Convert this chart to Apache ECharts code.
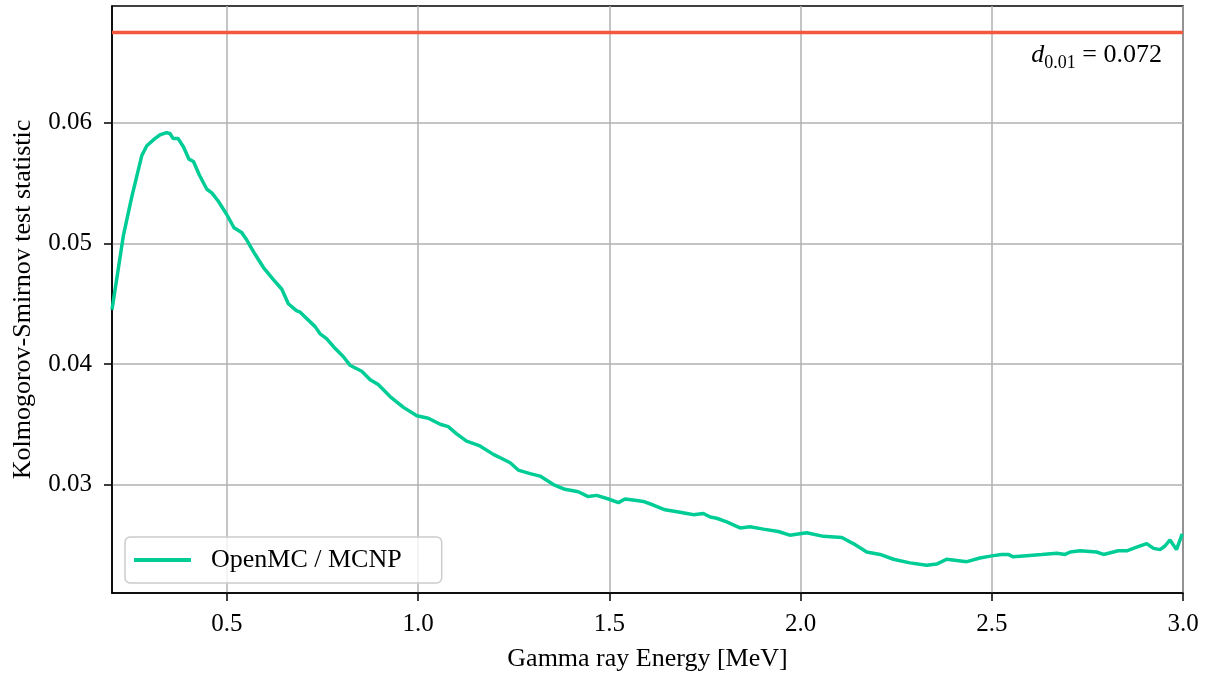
<!DOCTYPE html>
<html>
<head>
<meta charset="utf-8">
<script src="https://cdn.jsdelivr.net/npm/echarts@6/dist/echarts.min.js"></script>
<style>html,body{margin:0;padding:0;background:#fff}#chart{width:1209px;height:677px}</style>
</head>
<body>
<div id="chart"></div>
<script>
// Gamma ray energy [MeV]
const energy = [0.200,0.230,0.252,0.278,0.291,0.312,0.325,0.343,0.352,0.360,0.373,0.387,0.401,0.413,0.428,0.448,0.461,0.478,0.500,0.519,0.539,0.552,0.574,0.596,0.622,0.644,0.661,0.683,0.692,0.731,0.744,0.761,0.783,0.805,0.822,0.853,0.875,0.896,0.927,0.962,0.997,1.027,1.058,1.079,1.101,1.127,1.162,1.197,1.223,1.241,1.262,1.293,1.319,1.354,1.384,1.419,1.445,1.467,1.498,1.524,1.541,1.567,1.589,1.615,1.646,1.685,1.703,1.720,1.746,1.764,1.781,1.807,1.842,1.868,1.903,1.942,1.972,2.016,2.060,2.108,2.138,2.173,2.208,2.243,2.286,2.330,2.356,2.382,2.435,2.469,2.504,2.526,2.543,2.556,2.591,2.631,2.670,2.692,2.705,2.731,2.774,2.792,2.831,2.853,2.879,2.905,2.923,2.940,2.953,2.966,2.983,2.998];
// Kolmogorov-Smirnov test statistic (OpenMC / MCNP)
const ksStat = [0.0445,0.0507,0.0539,0.0573,0.0581,0.0587,0.0590,0.0592,0.0591,0.0587,0.0587,0.0580,0.0570,0.0568,0.0557,0.0545,0.0542,0.0535,0.0524,0.0513,0.0509,0.0503,0.0491,0.0480,0.0470,0.0462,0.0450,0.0444,0.0443,0.0431,0.0425,0.0421,0.0413,0.0406,0.0399,0.0394,0.0387,0.0383,0.0373,0.0364,0.0357,0.0355,0.0350,0.0348,0.0342,0.0336,0.0332,0.0325,0.0321,0.0318,0.0312,0.0309,0.0307,0.0300,0.0296,0.0294,0.0290,0.0291,0.0288,0.0285,0.0288,0.0287,0.0286,0.0283,0.0279,0.0277,0.0276,0.0275,0.0276,0.0273,0.0272,0.0269,0.0264,0.0265,0.0263,0.0261,0.0258,0.0260,0.0257,0.0256,0.0251,0.0244,0.0242,0.0238,0.0235,0.0233,0.0234,0.0238,0.0236,0.0239,0.0241,0.0242,0.0242,0.0240,0.0241,0.0242,0.0243,0.0242,0.0244,0.0245,0.0244,0.0242,0.0245,0.0245,0.0248,0.0251,0.0247,0.0246,0.0249,0.0254,0.0246,0.0259];
const xTicks = [0.5, 1.0, 1.5, 2.0, 2.5, 3.0];
const yTicks = [0.03, 0.04, 0.05, 0.06];
const xRange = [0.2, 3.0];
const yRange = [0.0210, 0.0697];
const thresholdLine = 0.0675;
const seriesName = 'OpenMC / MCNP';
const xTitle = 'Gamma ray Energy [MeV]';
const yTitle = 'Kolmogorov-Smirnov test statistic';
const thresholdLabel = ['d', '0.01', ' = 0.072'];

const FONT = '"Liberation Serif", "Times New Roman", serif';
const chart = echarts.init(document.getElementById('chart'), null, {renderer: 'canvas'});
chart.setOption({
  animation: false,
  backgroundColor: '#ffffff',
  grid: {left: 112, right: 26, top: 6, bottom: 79, show: true, borderColor: '#000', borderWidth: 1.5, backgroundColor: 'transparent'},
  xAxis: {
    type: 'value', min: xRange[0], max: xRange[1],
    name: xTitle, nameLocation: 'middle', nameGap: 53,
    nameTextStyle: {fontFamily: FONT, fontSize: 26, color: '#000'},
    axisLine: {show: true, onZero: false, lineStyle: {color: '#000', width: 1.5}},
    axisTick: {show: true, customValues: xTicks, length: 8, lineStyle: {color: '#000', width: 1.5}},
    axisLabel: {customValues: xTicks, margin: 19, fontFamily: FONT, fontSize: 25, color: '#000', formatter: v => v.toFixed(1)},
    splitLine: {show: true, lineStyle: {color: '#b0b0b0', width: 1.5}}
  },
  yAxis: {
    type: 'value', min: yRange[0], max: yRange[1],
    name: yTitle, nameLocation: 'middle', nameGap: 76, nameRotate: 90,
    nameTextStyle: {fontFamily: FONT, fontSize: 26, color: '#000'},
    axisLine: {show: true, onZero: false, lineStyle: {color: '#000', width: 1.5}},
    axisTick: {show: true, customValues: yTicks, length: 8, lineStyle: {color: '#000', width: 1.5}},
    axisLabel: {customValues: yTicks, margin: 20, fontFamily: FONT, fontSize: 25, color: '#000', formatter: v => v.toFixed(2)},
    splitLine: {show: true, lineStyle: {color: '#b0b0b0', width: 1.5}}
  },
  legend: {
    data: [seriesName], left: 125, top: 537, icon: 'rect', itemWidth: 57, itemHeight: 4,
    padding: [8, 40, 8, 9],
    backgroundColor: 'rgba(255,255,255,0.8)', borderColor: '#cccccc', borderWidth: 1.5, borderRadius: 5,
    textStyle: {fontFamily: FONT, fontSize: 26, color: '#000', lineHeight: 30, padding: [0, 0, 0, 15]}
  },
  series: [{
    name: 'threshold', type: 'line', symbol: 'none', silent: true,
    lineStyle: {width: 3.5, color: '#f4573e'}, color: '#f4573e',
    data: [[xRange[0], thresholdLine], [xRange[1], thresholdLine]]
  }, {
    name: seriesName, type: 'line', symbol: 'none', color: '#00cc96',
    lineStyle: {width: 3.5, color: '#00cc96'},
    data: energy.map((e, i) => [e, ksStat[i]])
  }]
});
const p = chart.convertToPixel({gridIndex: 0}, [xRange[1], thresholdLine]);
chart.setOption({
  graphic: [{
    type: 'text', left: null, x: p[0] - 21, y: p[1] + 10, z: 100,
    style: {
      text: '{d|' + thresholdLabel[0] + '}{s|' + thresholdLabel[1] + '}{n|' + thresholdLabel[2] + '}',
      align: 'right', verticalAlign: 'top',
      rich: {
        d: {fontFamily: FONT, fontStyle: 'italic', fontSize: 26, lineHeight: 30, verticalAlign: 'top', fill: '#000'},
        s: {fontFamily: FONT, fontSize: 18, lineHeight: 18, padding: [12, 0, 0, 0], verticalAlign: 'top', fill: '#000'},
        n: {fontFamily: FONT, fontSize: 26, lineHeight: 30, verticalAlign: 'top', fill: '#000'}
      }
    }
  }]
});
</script>
</body>
</html>
